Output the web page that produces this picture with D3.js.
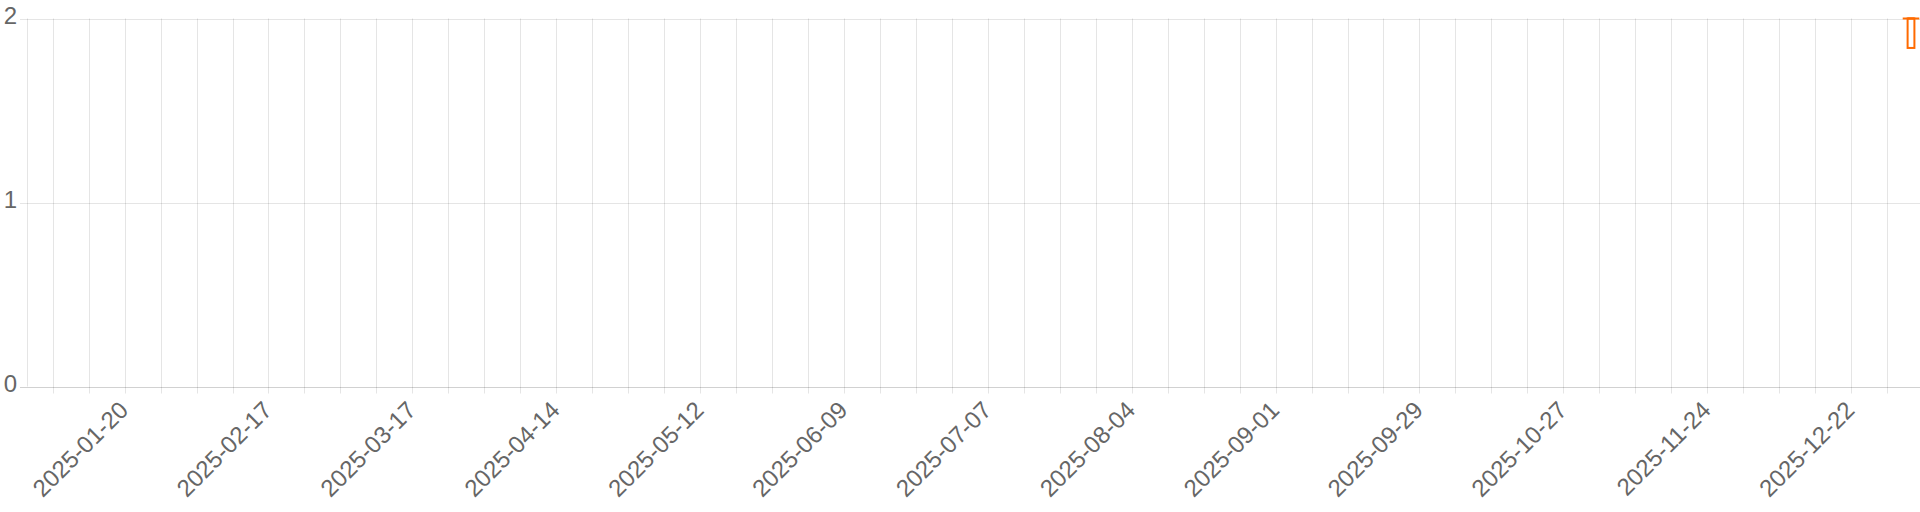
<!DOCTYPE html>
<html>
<head>
<meta charset="utf-8">
<script src="https://cdn.jsdelivr.net/npm/d3@7"></script>
<style>
  html, body { margin: 0; padding: 0; background: #fff; }
  svg { display: block; font-family: "Liberation Sans", Arial, Helvetica, sans-serif; }
</style>
</head>
<body>
<svg id="chart" width="1920" height="512"></svg>
<script>
// box plot data (one week only has values)
const dates = ["2026-01-02T16:00:00Z"];
const mins = [1.84];
const q1s = [1.84];
const medians = [2];
const q3s = [2];
const maxs = [2];

const yTicks = [0, 1, 2];
const tickLabels = [
  "2025-01-20", "2025-02-17", "2025-03-17", "2025-04-14", "2025-05-12",
  "2025-06-09", "2025-07-07", "2025-08-04", "2025-09-01", "2025-09-29",
  "2025-10-27", "2025-11-24", "2025-12-22"
];

const width = 1920;
const height = 512;
const plotLeft = 27;
const plotTop = 18.5;
const plotBottom = 386.5;
const orange = "#ff6a00";
const gridColor = "rgba(0,0,0,0.1)";
const textColor = "#666";
const fontSize = 24;

const svg = d3.select("#chart");

const x = d3.scaleUtc()
  .domain([new Date(Date.UTC(2025, 0, 1)), new Date(Date.UTC(2026, 0, 4, 10))])
  .range([plotLeft, width]);

const y = d3.scaleLinear()
  .domain([0, 2])
  .range([plotBottom, plotTop]);

const weeks = d3.utcMonday.range(x.domain()[0], x.domain()[1]);
const fmt = d3.utcFormat("%Y-%m-%d");

// horizontal grid + y ticks
svg.append("g")
  .selectAll("line")
  .data(yTicks)
  .join("line")
  .attr("x1", 20)
  .attr("x2", width)
  .attr("y1", d => Math.round(y(d)) + 0.5)
  .attr("y2", d => Math.round(y(d)) + 0.5)
  .attr("stroke", d => d === 0 ? "rgba(0,0,0,0.18)" : gridColor);

svg.append("g")
  .selectAll("text")
  .data(yTicks)
  .join("text")
  .attr("x", 17)
  .attr("y", d => y(d))
  .attr("dy", "0.21em")
  .attr("text-anchor", "end")
  .attr("font-size", fontSize)
  .attr("fill", textColor)
  .text(d => d);

// left border
svg.append("line")
  .attr("x1", plotLeft + 0.5)
  .attr("x2", plotLeft + 0.5)
  .attr("y1", plotTop)
  .attr("y2", plotBottom)
  .attr("stroke", gridColor);

// vertical weekly grid + ticks
svg.append("g")
  .selectAll("line")
  .data(weeks)
  .join("line")
  .attr("x1", d => Math.round(x(d)) + 0.5)
  .attr("x2", d => Math.round(x(d)) + 0.5)
  .attr("y1", plotTop)
  .attr("y2", plotBottom + 7)
  .attr("stroke", gridColor);

// rotated date labels
svg.append("g")
  .selectAll("text")
  .data(weeks.filter(d => tickLabels.includes(fmt(d))))
  .join("text")
  .attr("transform", d => `translate(${x(d) + 5},${plotBottom + 25}) rotate(-45)`)
  .attr("text-anchor", "end")
  .attr("font-size", fontSize)
  .attr("fill", textColor)
  .text(d => fmt(d));

// box plot marks
const boxes = dates.map((d, i) => ({
  date: new Date(d), min: mins[i], q1: q1s[i], median: medians[i], q3: q3s[i], max: maxs[i]
}));

const bx = svg.append("g").selectAll("g")
  .data(boxes)
  .join("g")
  .attr("fill", "none")
  .attr("stroke", orange)
  .attr("stroke-width", 2);

// whiskers
bx.append("line")
  .attr("x1", d => x(d.date)).attr("x2", d => x(d.date))
  .attr("y1", d => y(d.max)).attr("y2", d => y(d.q3));
bx.append("line")
  .attr("x1", d => x(d.date)).attr("x2", d => x(d.date))
  .attr("y1", d => y(d.q1)).attr("y2", d => y(d.min));

// box
bx.append("rect")
  .attr("x", d => x(d.date) - 3.4)
  .attr("width", 6.8)
  .attr("y", d => y(d.q3))
  .attr("height", d => y(d.q1) - y(d.q3))
  .attr("fill", "#fff");

bx.append("line")
  .attr("x1", d => x(d.date) - 3.4).attr("x2", d => x(d.date) + 3.4)
  .attr("y1", d => y(d.median)).attr("y2", d => y(d.median));

// cap
bx.append("line")
  .attr("x1", d => x(d.date) - 8.3).attr("x2", d => x(d.date) + 8.3)
  .attr("y1", d => y(d.max)).attr("y2", d => y(d.max));
</script>
</body>
</html>
